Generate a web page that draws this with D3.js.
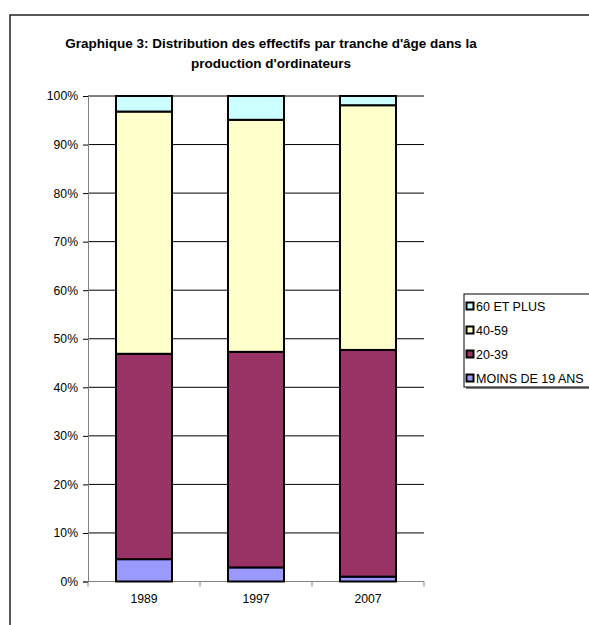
<!DOCTYPE html>
<html><head><meta charset="utf-8">
<script src="https://cdn.jsdelivr.net/npm/d3@7"></script>
<style>body{margin:0;background:#fff}svg{display:block}</style>
</head><body>
<svg id="c" width="589" height="625"></svg>
<script>
const years = ["1989", "1997", "2007"];
const seriesNames = ["MOINS DE 19 ANS", "20-39", "40-59", "60 ET PLUS"];
const moins19 = [4.6, 2.9, 1.0];
const a20_39 = [42.3, 44.4, 46.7];
const a40_59 = [49.9, 47.8, 50.4];
const a60plus = [3.2, 4.9, 1.9];
const colors = ["#9999FF", "#993366", "#FFFFCC", "#CCFFFF"];
const yTicks = [0, 10, 20, 30, 40, 50, 60, 70, 80, 90, 100];

const svg = d3.select("#c");
const font = "Liberation Sans, Arial, sans-serif";

// outer frame
svg.append("rect").attr("x", 10).attr("y", 15).attr("width", 700).attr("height", 700)
  .attr("fill", "none").attr("stroke", "#222").attr("stroke-width", 1.5);

// title
const title = svg.append("text").attr("x", 271).attr("text-anchor", "middle")
  .attr("font-family", font).attr("font-size", 13.5).attr("font-weight", "bold").attr("fill", "#000");
title.append("tspan").attr("x", 271).attr("y", 48).text("Graphique 3: Distribution des effectifs par tranche d'âge dans la");
title.append("tspan").attr("x", 271).attr("y", 68).text("production d'ordinateurs");

const x = d3.scaleBand().domain(years).range([88, 424]).paddingInner(0.5).paddingOuter(0.25);
const y = d3.scaleLinear().domain([0, 100]).range([581.5, 96]);

// gridlines
svg.append("g").selectAll("line").data(yTicks.filter(d => d > 0)).join("line")
  .attr("x1", 88).attr("x2", 424).attr("y1", d => y(d)).attr("y2", d => y(d))
  .attr("stroke", "#000").attr("stroke-width", 1);

// y axis
const yAxis = svg.append("g").attr("transform", "translate(88,0)")
  .call(d3.axisLeft(y).tickValues(yTicks).tickFormat(d => d + "%").tickSize(5).tickPadding(5));
yAxis.select(".domain").attr("stroke", "#808080").attr("stroke-width", 1);
yAxis.selectAll(".tick line").attr("stroke", "#000");
yAxis.selectAll("text").attr("font-family", font).attr("font-size", 12.2).attr("fill", "#000");

// x axis
const xAxis = svg.append("g").attr("transform", "translate(0,581.5)")
  .call(d3.axisBottom(x).tickSize(0).tickPadding(13));
xAxis.select(".domain").remove();
xAxis.append("line").attr("x1", 88).attr("x2", 424).attr("stroke", "#808080").attr("stroke-width", 1);
const step = (424 - 88) / years.length;
xAxis.selectAll("line.t").data(d3.range(years.length + 1)).join("line").attr("class", "t")
  .attr("x1", i => 88 + i * step).attr("x2", i => 88 + i * step).attr("y1", 0).attr("y2", 5)
  .attr("stroke", "#808080");
xAxis.selectAll("text").attr("font-family", font).attr("font-size", 12.2).attr("fill", "#000");

// stacked bars
const rows = years.map((yr, i) => ({year: yr, "MOINS DE 19 ANS": moins19[i], "20-39": a20_39[i], "40-59": a40_59[i], "60 ET PLUS": a60plus[i]}));
const stack = d3.stack().keys(seriesNames)(rows);
svg.append("g").selectAll("g").data(stack).join("g")
  .attr("fill", (d, i) => colors[i])
  .selectAll("rect").data(d => d).join("rect")
  .attr("x", d => x(d.data.year)).attr("width", x.bandwidth())
  .attr("y", d => y(d[1])).attr("height", d => y(d[0]) - y(d[1]))
  .attr("stroke", "#000").attr("stroke-width", 2);

// legend
const lg = svg.append("g");
lg.append("rect").attr("x", 466).attr("y", 296).attr("width", 140).attr("height", 93).attr("fill", "#808080");
lg.append("rect").attr("x", 464).attr("y", 294).attr("width", 140).attr("height", 93)
  .attr("fill", "#fff").attr("stroke", "#000").attr("stroke-width", 1);
const legendOrder = [3, 2, 1, 0];
legendOrder.forEach((si, k) => {
  const cy = 306 + k * 24;
  lg.append("rect").attr("x", 466.5).attr("y", cy - 3.5).attr("width", 7).attr("height", 7)
    .attr("fill", colors[si]).attr("stroke", "#000").attr("stroke-width", 2);
  lg.append("text").attr("x", 476).attr("y", cy + 4.5).attr("font-family", font).attr("font-size", 12.5)
    .attr("fill", "#000").text(seriesNames[si]);
});
</script>
</body></html>
